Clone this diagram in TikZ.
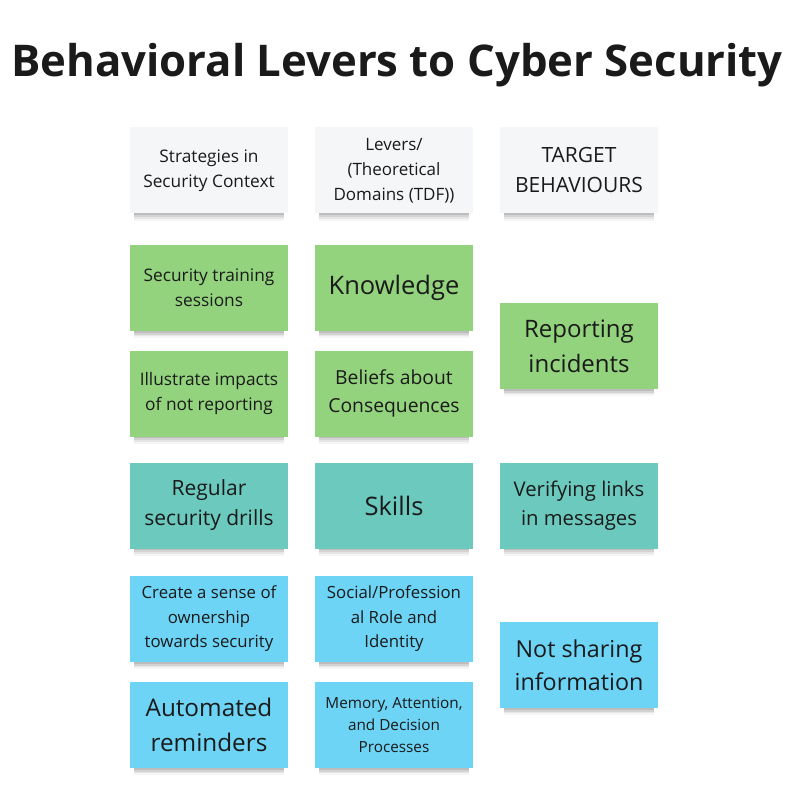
\documentclass[tikz,border=0pt]{standalone}
\usepackage{fontspec}
\setmainfont{Open Sans}
\usetikzlibrary{shadows}
\definecolor{hdr}{HTML}{F5F6F8}
\definecolor{grn}{HTML}{93D37D}
\definecolor{tealnote}{HTML}{6CC9BE}
\definecolor{blu}{HTML}{6DD4F6}
\definecolor{ink}{HTML}{1A1A1A}
\newcommand{\fs}[2]{\fontsize{#1}{#2}\selectfont}

\begin{document}
\begin{tikzpicture}[x=1pt,y=-1pt,
    note/.style={minimum width=158pt, minimum height=86pt, inner sep=0pt,
      align=center, text=ink,
      general shadow={fill=black, opacity=.04, shadow scale=.95, shadow yshift=-10pt},
      general shadow={fill=black, opacity=.06, shadow scale=.95, shadow yshift=-8pt},
      general shadow={fill=black, opacity=.08, shadow scale=.95, shadow yshift=-6pt},
      general shadow={fill=black, opacity=.10, shadow scale=.95, shadow yshift=-4pt}},
    head/.style={note, fill=hdr},
    green/.style={note, fill=grn},
    teal/.style={note, fill=tealnote},
    blue/.style={note, fill=blu}]
  \fill[white] (0,0) rectangle (800,794);
  \useasboundingbox (0,0) rectangle (800,794);

  \node[font=\bfseries\fs{43.7}{52}, text=ink, anchor=base] (title) at (397,77) {Behavioral Levers to Cyber Security};

  % headers
  \node[head, font=\fs{17.3}{25}] (strat) at (209,170.5) {Strategies in\\Security Context};
  \node[head, font=\fs{17}{25}] (lever) at (394,170.5) {Levers/\\(Theoretical\\Domains (TDF))};
  \node[head, font=\fs{21}{30}] (target) at (579,170.5) {TARGET\\BEHAVIOURS};

  % reporting
  \node[green, font=\fs{17.3}{25}] (training) at (209,288) {Security training\\sessions};
  \node[green, font=\fs{25.5}{30}] (knowledge) at (394,288) {Knowledge};
  \node[green, font=\fs{17.3}{25}] (impacts) at (209,393.5) {Illustrate impacts\\of not reporting};
  \node[green, font=\fs{19.3}{28}] (beliefs) at (394,393.5) {Beliefs about\\Consequences};
  \node[green, font=\fs{24}{35}] (reporting) at (579,346) {Reporting\\incidents};

  % verifying
  \node[teal, font=\fs{21}{30}] (drills) at (209,505.5) {Regular\\security drills};
  \node[teal, font=\fs{25.5}{30}] (skills) at (394,505.5) {Skills};
  \node[teal, font=\fs{20.3}{29}] (verify) at (579,505.5) {Verifying links\\in messages};

  % sharing
  \node[blue, font=\fs{16.8}{24.5}] (owner) at (209,619) {Create a sense of\\ownership\\towards security};
  \node[blue, font=\fs{16.8}{24.5}] (role) at (394,619) {Social/Profession\\al Role and\\Identity};
  \node[blue, font=\fs{24.3}{35}] (remind) at (209,725) {Automated\\reminders};
  \node[blue, font=\fs{15.3}{22}] (memory) at (394,725) {Memory, Attention,\\and Decision\\Processes};
  \node[blue, font=\fs{23.3}{33}] (sharing) at (579,665) {Not sharing\\information};
\end{tikzpicture}
\end{document}
